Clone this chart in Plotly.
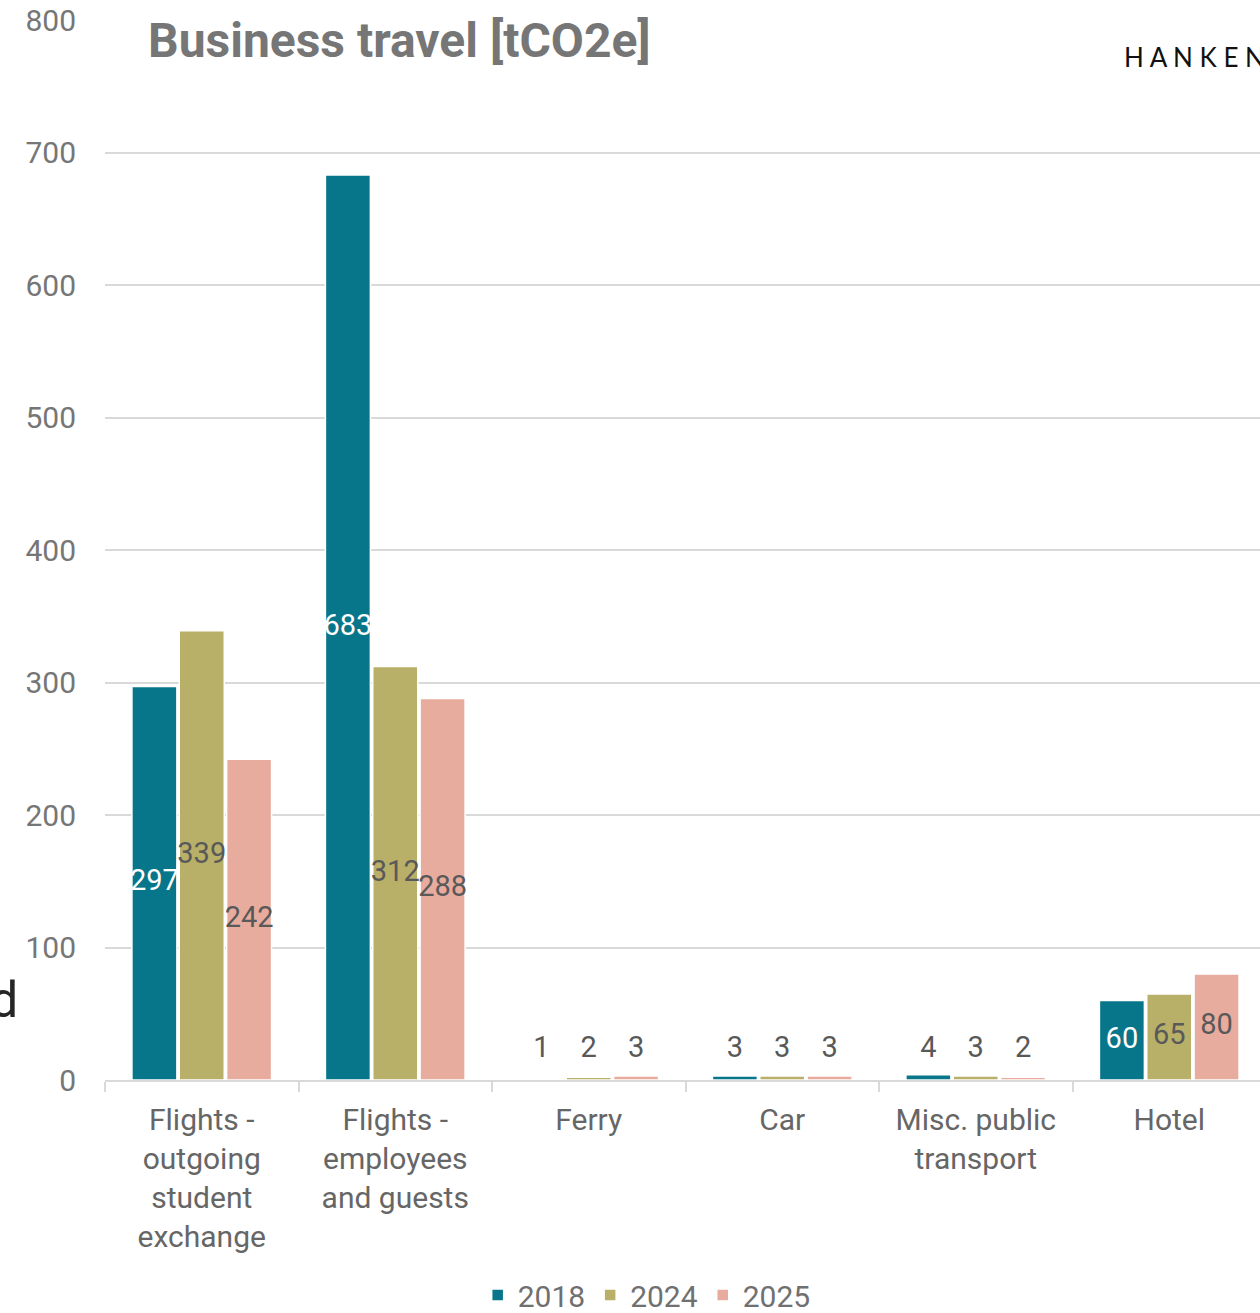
import plotly.graph_objects as go

# Emission categories (x axis) and yearly values in tCO2e
categories = [
    "Flights -<br>outgoing<br>student<br>exchange",
    "Flights -<br>employees<br>and guests",
    "Ferry",
    "Car",
    "Misc. public<br>transport",
    "Hotel",
]
years = ["2018", "2024", "2025"]
values_2018 = [297, 683, 1, 3, 4, 60]
values_2024 = [339, 312, 2, 3, 3, 65]
values_2025 = [242, 288, 3, 3, 2, 80]
y_ticks = [0, 100, 200, 300, 400, 500, 600, 700, 800]

series = [
    ("2018", values_2018, "#08768A", "#FFFFFF"),
    ("2024", values_2024, "#B8AF68", "#595959"),
    ("2025", values_2025, "#E8AC9F", "#595959"),
]

FONT = "Roboto"
BAR_GAP = 0.266
SLOT = (1 - BAR_GAP) / 3
X_RANGE = [-0.5, 5.469]
LABEL_FLOOR = 22.6  # keeps labels of tiny bars clear of the axis

fig = go.Figure()

for k, (name, vals, color, inside_text) in enumerate(series):
    fig.add_trace(go.Bar(
        name=name,
        x=categories,
        y=vals,
        marker=dict(color=color, line=dict(color="#FFFFFF", width=1.5)),
        hoverinfo="skip",
    ))

# Value labels, centred on each bar (or lifted for very short bars)
for k, (name, vals, color, inside_text) in enumerate(series):
    xs = [i + (k - 1) * SLOT for i in range(len(categories))]
    ys = [max(v / 2, LABEL_FLOOR) for v in vals]
    cols = [inside_text if v >= 45 else "#595959" for v in vals]
    fig.add_trace(go.Scatter(
        x=xs, y=ys, xaxis="x2", mode="text",
        text=[str(v) for v in vals],
        textposition="middle center",
        textfont=dict(family=FONT, size=29, color=cols),
        showlegend=False, hoverinfo="skip", cliponaxis=False,
    ))

fig.update_layout(
    width=1260, height=1313,
    margin=dict(l=105, r=0, t=20, b=233, autoexpand=False),
    paper_bgcolor="#FFFFFF", plot_bgcolor="#FFFFFF",
    barmode="group", bargap=BAR_GAP, bargroupgap=0.05,
    font=dict(family=FONT, color="#666666"),
    title=dict(
        text="<b>Business travel [tCO2e]</b>",
        font=dict(family=FONT, size=48, color="#767676"),
        xref="container", x=148 / 1260, xanchor="left",
        yref="container", y=1 - 40 / 1313, yanchor="middle",
    ),
    xaxis=dict(
        type="category", range=X_RANGE, automargin=False,
        showline=True, linecolor="#D9D9D9", linewidth=2,
        ticks="outside", tickson="boundaries", ticklen=10,
        tickcolor="#D9D9D9", tickwidth=2,
        tickfont=dict(family=FONT, size=30, color="#666666"),
        ticklabelstandoff=12,
        showgrid=False, zeroline=False,
    ),
    xaxis2=dict(overlaying="x", range=X_RANGE, visible=False),
    yaxis=dict(
        range=[0, 800], tickvals=y_ticks, automargin=False,
        showgrid=True, gridcolor="#D9D9D9", gridwidth=1.5,
        zeroline=False, showline=False, ticks="",
        tickfont=dict(family=FONT, size=30, color="#767676"),
        ticklabelstandoff=28,
    ),
    legend=dict(
        orientation="h", x=0.469, xanchor="center",
        y=(1080 - 1295) / 1060, yanchor="middle",
        font=dict(family=FONT, size=30, color="#707070"),
        traceorder="normal",
    ),
    annotations=[
        dict(text="H A N K E N", xref="paper", yref="paper",
             x=(1122 - 105) / 1155, y=(1080 - 57) / 1060,
             xanchor="left", yanchor="middle", showarrow=False,
             font=dict(family="Lato", size=26, color="#111111")),
        dict(text="d", xref="paper", yref="paper",
             x=(20 - 105) / 1155, y=(1080 - 1000) / 1060,
             xanchor="right", yanchor="middle", showarrow=False,
             font=dict(family=FONT, size=50, color="#262626")),
    ],
)

fig.write_html("out.html")
